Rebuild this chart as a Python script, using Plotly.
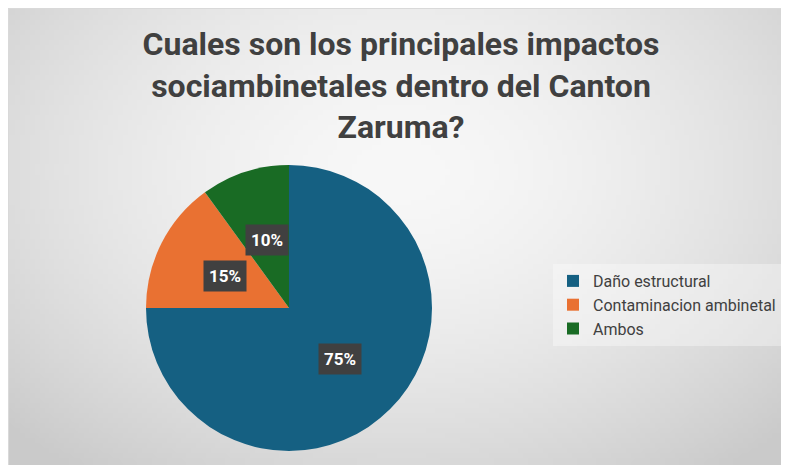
import base64
import math
import struct
import zlib

import numpy as np
import plotly.graph_objects as go

# ---------------- data ----------------
categories = ["Daño estructural", "Contaminacion ambinetal", "Ambos"]
values = [75, 15, 10]
colors = ["#156082", "#E97132", "#196B24"]
title_lines = [
    "Cuales son los principales impactos",
    "sociambinetales dentro del Canton",
    "Zaruma?",
]

# ---------------- layout geometry ----------------
OFF = 8                      # page body margin of the html page
W, H = 789 - OFF, 465 - OFF  # figure size that fits the window
PW, PH = 789, 465


def px(x):  # page x -> paper fraction
    return (x - OFF) / W


def py(y):  # page y -> paper fraction
    return 1 - (y - OFF) / H


cx, cy, r = 289, 308, 143  # pie centre / radius in page pixels
dom_x = [px(cx - r), px(cx + r)]
dom_y = [py(cy + r), py(cy - r)]


# ---------------- gradient background image ----------------
def make_png(arr):
    h, w, _ = arr.shape
    raw = b"".join(b"\x00" + arr[i].tobytes() for i in range(h))

    def chunk(tag, data):
        c = struct.pack(">I", len(data)) + tag + data
        return c + struct.pack(">I", zlib.crc32(tag + data) & 0xFFFFFFFF)

    png = b"\x89PNG\r\n\x1a\n"
    png += chunk(b"IHDR", struct.pack(">IIBBBBB", w, h, 8, 2, 0, 0, 0))
    png += chunk(b"IDAT", zlib.compress(raw, 9))
    png += chunk(b"IEND", b"")
    return png


gw, gh = 160, 92
xs = np.linspace(OFF, PW, gw)
ys = np.linspace(OFF, PH, gh)
X, Y = np.meshgrid(xs, ys)
d = np.sqrt(((X - 400) / 480) ** 2 + ((Y - 170) / 330) ** 2)
val = 248 - 46 * np.clip(d / 1.15, 0, 1) ** 1.6
img = np.repeat(val[:, :, None], 3, axis=2).astype(np.uint8)
img_src = "data:image/png;base64," + base64.b64encode(make_png(img)).decode()

# ---------------- figure ----------------
fig = go.Figure(
    go.Pie(
        labels=categories,
        values=values,
        marker=dict(colors=colors, line=dict(width=0)),
        sort=False,
        direction="clockwise",
        rotation=0,
        textinfo="none",
        domain=dict(x=dom_x, y=dom_y),
        hovertemplate="%{label}: %{percent}<extra></extra>",
    )
)

# data labels (dark boxes) placed at mid-angle, half radius
total = sum(values)
cum = 0
annotations = []
for v in values:
    theta = 2 * math.pi * (cum + v / 2) / total
    cum += v
    lx = cx + 0.5 * r * math.sin(theta)
    ly = cy - 0.5 * r * math.cos(theta)
    annotations.append(
        dict(
            x=px(lx),
            y=py(ly),
            xref="paper",
            yref="paper",
            text=f"<b>{round(v / total * 100)}%</b>",
            showarrow=False,
            font=dict(family="Roboto, Arial, sans-serif", size=17, color="white"),
            bgcolor="#404040",
            borderpad=5,
            xanchor="center",
            yanchor="middle",
        )
    )

fig.update_layout(
    width=W,
    height=H,
    margin=dict(l=0, r=0, t=0, b=0),
    paper_bgcolor="white",
    plot_bgcolor="white",
    title=dict(
        text="<b>" + "<br>".join(title_lines) + "</b>",
        x=px(401),
        xanchor="center",
        y=py(55),
        yanchor="top",
        font=dict(family="Roboto, Arial, sans-serif", size=32, color="#404040"),
    ),
    legend=dict(
        x=px(553),
        y=py(305),
        xanchor="left",
        yanchor="middle",
        bgcolor="rgba(255,255,255,0.35)",
        font=dict(family="Roboto, Arial, sans-serif", size=16, color="#404040"),
        itemsizing="constant",
    ),
    images=[
        dict(
            source=img_src,
            xref="paper",
            yref="paper",
            x=0,
            y=1,
            sizex=1,
            sizey=1,
            sizing="stretch",
            xanchor="left",
            yanchor="top",
            layer="below",
        )
    ],
    shapes=[
        dict(
            type="rect",
            xref="paper",
            yref="paper",
            x0=0.5 / W,
            x1=1.01,
            y0=-0.01,
            y1=1 - 0.5 / H,
            line=dict(color="#d9d9d9", width=1),
            fillcolor="rgba(0,0,0,0)",
            layer="below",
        )
    ],
    annotations=annotations,
)

fig.write_html("out.html")
